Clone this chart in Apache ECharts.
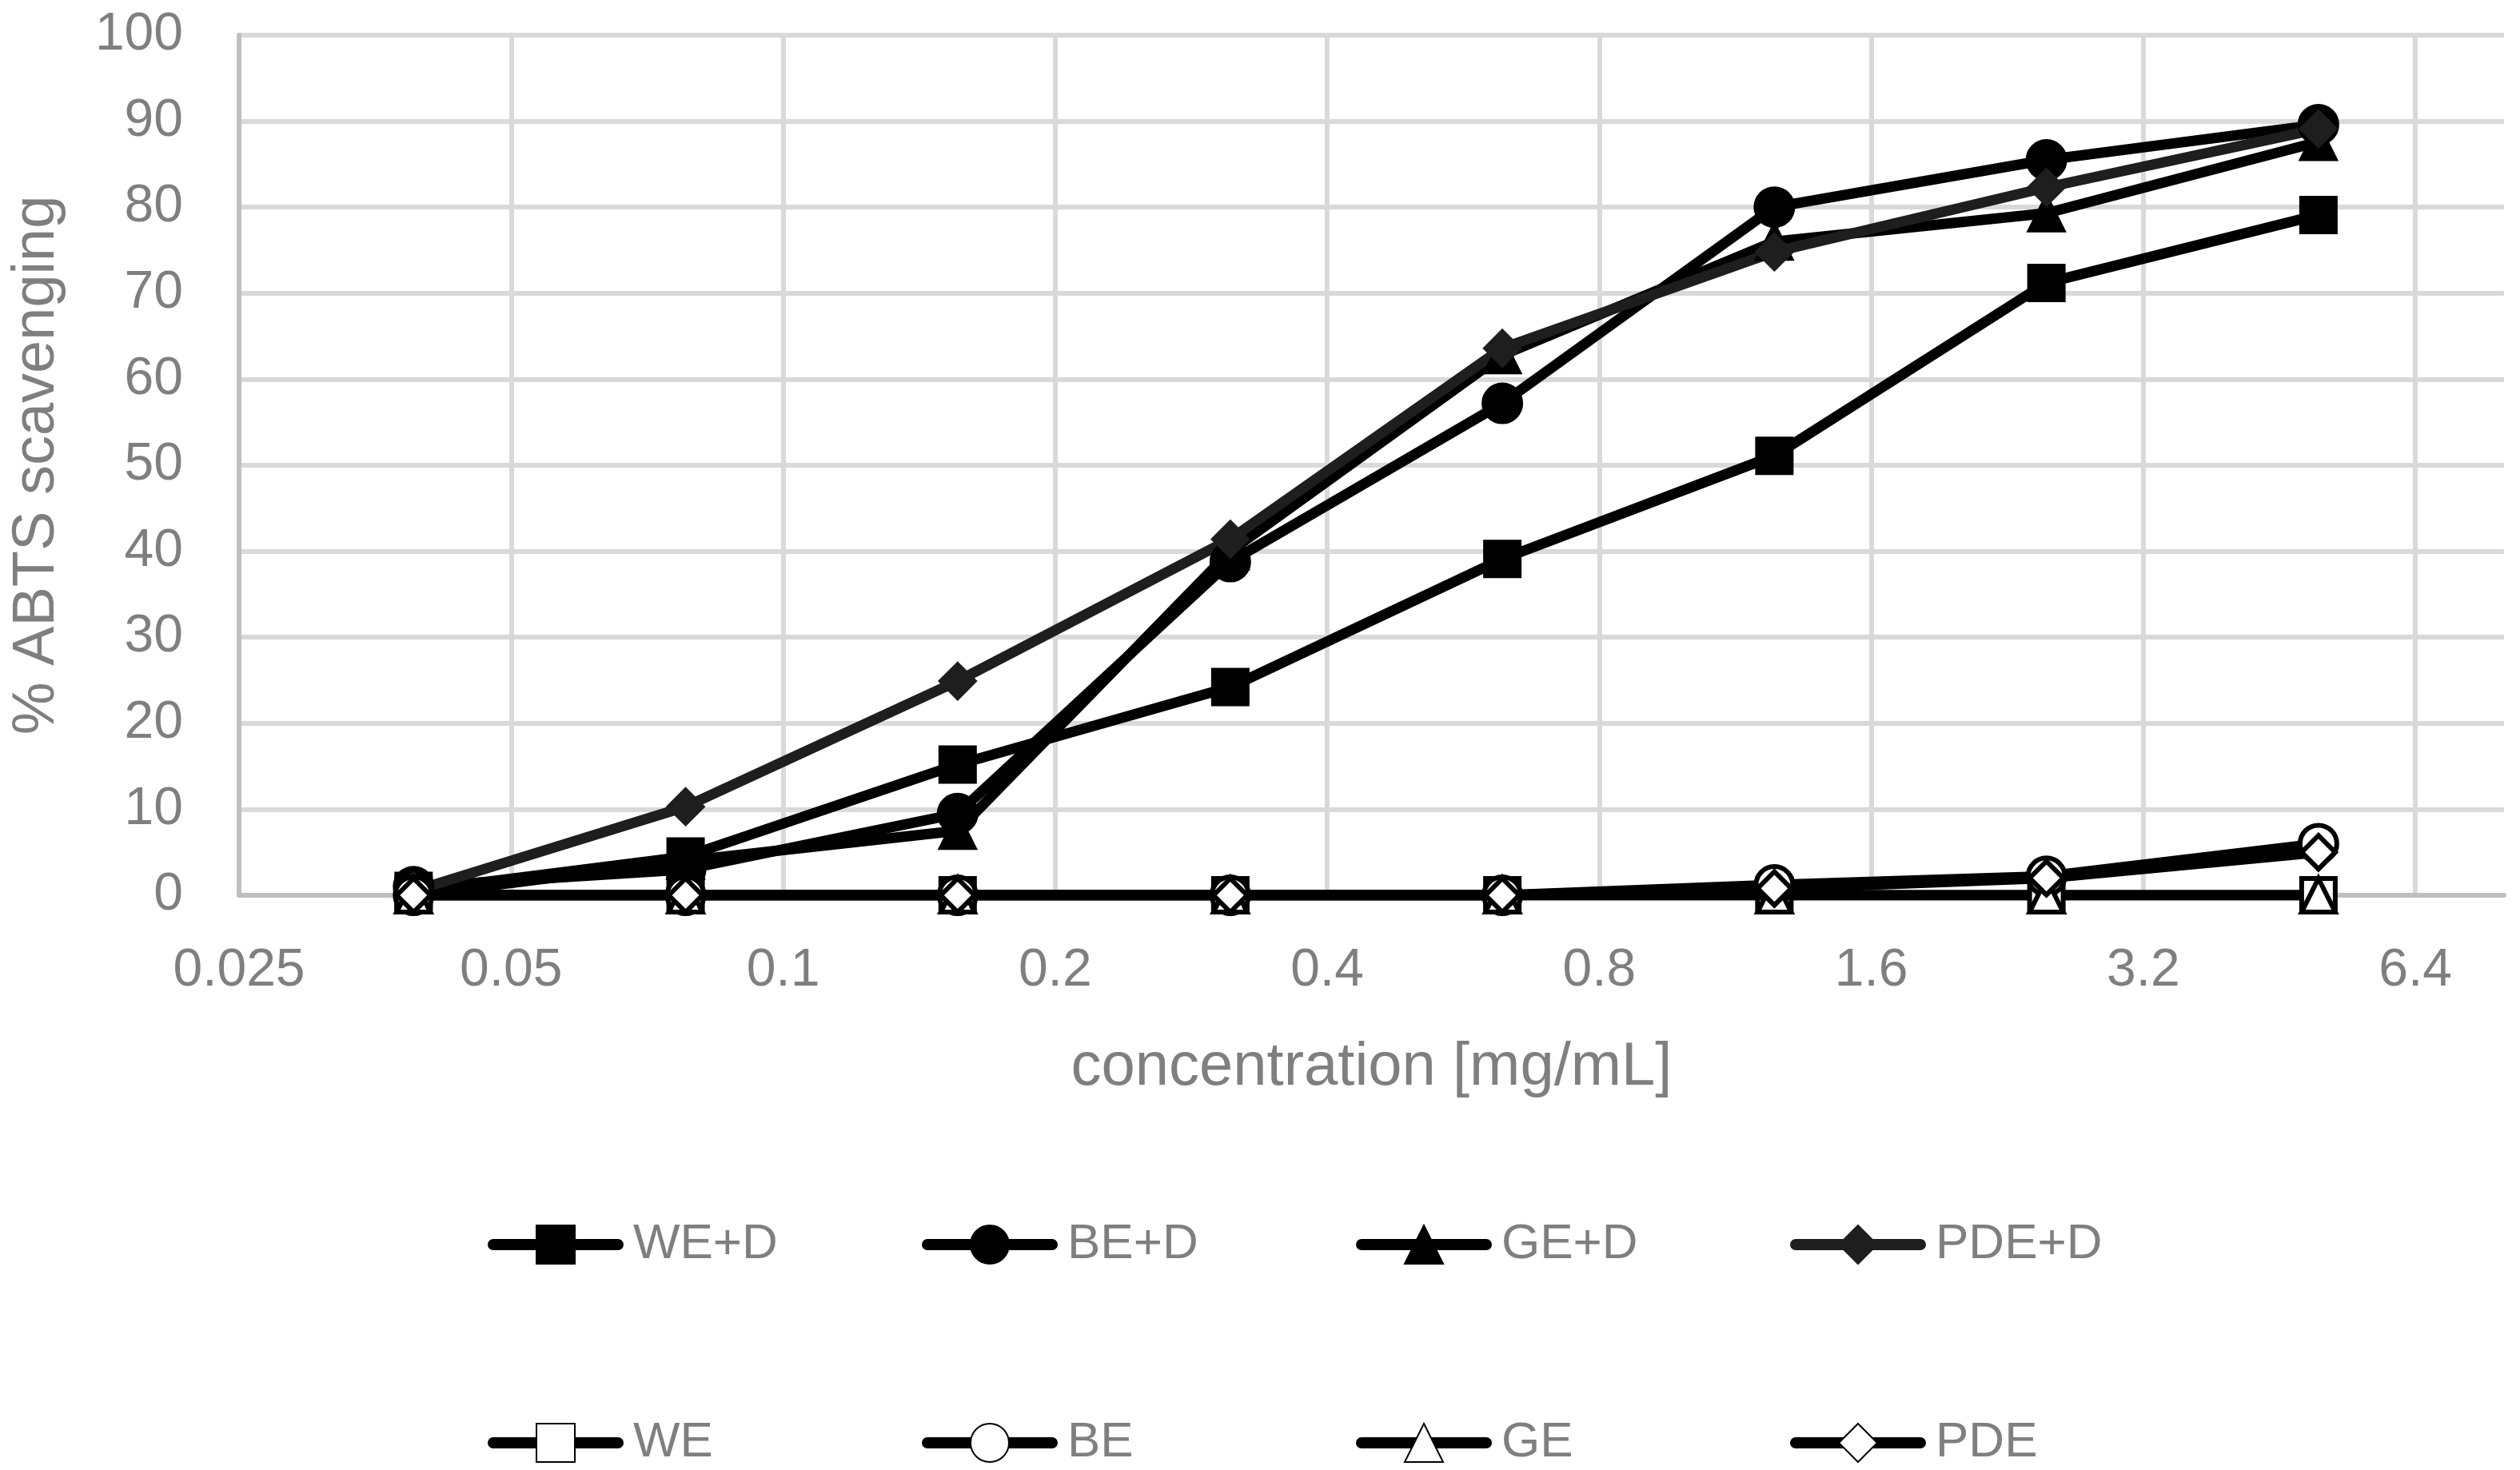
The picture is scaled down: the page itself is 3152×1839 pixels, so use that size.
<!DOCTYPE html>
<html>
<head>
<meta charset="utf-8">
<script src="https://cdn.jsdelivr.net/npm/echarts@6/dist/echarts.min.js"></script>
<style>
html,body{margin:0;padding:0;background:#fff;}
#chart{width:3152px;height:1839px;}
</style>
</head>
<body>
<div id="chart"></div>
<script>
// concentrations [mg/mL]
const concentrations = [0.039, 0.078, 0.156, 0.3125, 0.625, 1.25, 2.5, 5];
const xTickLabels = ['0.025', '0.05', '0.1', '0.2', '0.4', '0.8', '1.6', '3.2', '6.4'];
const xBase = 0.025;
const xMaxLog = 8.326;

const seriesNames = ['WE+D', 'BE+D', 'GE+D', 'PDE+D', 'WE', 'BE', 'GE', 'PDE'];
const weD  = [0.5, 4.5, 15.2, 24.2, 39.1, 51.1, 71.2, 79.1];
const beD  = [1.0, 3.0, 9.5, 38.8, 57.2, 80.0, 85.5, 89.6];
const geD  = [0.0, 4.0, 7.5, 40.0, 62.8, 76.0, 79.3, 87.6];
const pdeD = [0.5, 10.3, 24.9, 41.4, 63.6, 74.8, 82.3, 89.1];
const we   = [0, 0, 0, 0, 0, 0, 0, 0];
const be   = [0, 0, 0, 0, 0, 1.2, 2.2, 6.0];
const ge   = [0, 0, 0, 0, 0, 0, 0, 0];
const pde  = [0, 0, 0, 0, 0, 0.8, 2.0, 5.0];
const seriesValues = [weD, beD, geD, pdeD, we, be, ge, pde];

const symbols = ['rect', 'circle', 'triangle', 'diamond', 'rect', 'circle', 'triangle', 'diamond'];
const filled = [true, true, true, true, false, false, false, false];
const lineColors = ['#000000', '#000000', '#000000', '#1e1e1e', '#000000', '#000000', '#000000', '#000000'];

const FONT = "'Liberation Sans', Arial, sans-serif";
const GRAY = '#7f7f7f';

function toX(c) { return Math.log2(c / xBase); }

const series = seriesNames.map((name, i) => {
  const sym = symbols[i];
  let size = filled[i] ? 44 : 42;
  if (sym === 'circle') size += 4;
  return {
    name: name,
    type: 'line',
    data: concentrations.map((c, k) => [toX(c), seriesValues[i][k]]),
    symbol: sym,
    symbolSize: size,
    showAllSymbol: true,
    lineStyle: { color: lineColors[i], width: 13, cap: 'round', join: 'round' },
    itemStyle: {
      color: filled[i] ? lineColors[i] : '#ffffff',
      borderColor: lineColors[i],
      borderWidth: filled[i] ? 4 : 6
    },
    emphasis: { disabled: true },
    z: 2
  };
});

const legendLefts = [610, 1153, 1696, 2239];
const legendTops = [1526, 1774];
const legends = seriesNames.map((name, i) => ({
  data: [name],
  left: legendLefts[i % 4],
  top: legendTops[Math.floor(i / 4)],
  padding: 0,
  itemWidth: 156,
  itemHeight: 60,
  selectedMode: false,
  lineStyle: { color: lineColors[i], width: 14, cap: 'round' },
  textStyle: { color: GRAY, fontSize: 62, fontFamily: FONT, padding: [0, 0, 0, 14] }
}));

const chart = echarts.init(document.getElementById('chart'), null, { renderer: 'canvas' });
chart.setOption({
  animation: false,
  backgroundColor: '#ffffff',
  grid: { left: 299, right: 20, top: 44, bottom: 719, containLabel: false },
  legend: legends,
  xAxis: {
    type: 'value',
    min: 0,
    max: xMaxLog,
    interval: 1,
    name: 'concentration [mg/mL]',
    nameLocation: 'middle',
    nameGap: 178,
    nameTextStyle: { color: GRAY, fontSize: 76, fontFamily: FONT },
    axisLine: { show: true, lineStyle: { color: '#bfbfbf', width: 6 } },
    axisTick: { show: false },
    axisLabel: {
      color: GRAY, fontSize: 66, fontFamily: FONT, margin: 62,
      showMaxLabel: false,
      formatter: (v) => {
        const idx = Math.round(v);
        return (Math.abs(v - idx) < 1e-6 && xTickLabels[idx] !== undefined) ? xTickLabels[idx] : '';
      }
    },
    splitLine: { show: true, showMinLine: false, showMaxLine: false, lineStyle: { color: '#d9d9d9', width: 6 } }
  },
  yAxis: {
    type: 'value',
    min: 0,
    max: 100,
    interval: 10,
    name: '% ABTS scavenging',
    nameLocation: 'middle',
    nameGap: 215,
    nameTextStyle: { color: GRAY, fontSize: 74, fontFamily: FONT },
    axisLine: { show: true, lineStyle: { color: '#bfbfbf', width: 6 } },
    axisTick: { show: false },
    axisLabel: { color: GRAY, fontSize: 66, fontFamily: FONT, margin: 70 },
    splitLine: { show: true, showMinLine: false, lineStyle: { color: '#d9d9d9', width: 6 } }
  },
  series: series
});
</script>
</body>
</html>
